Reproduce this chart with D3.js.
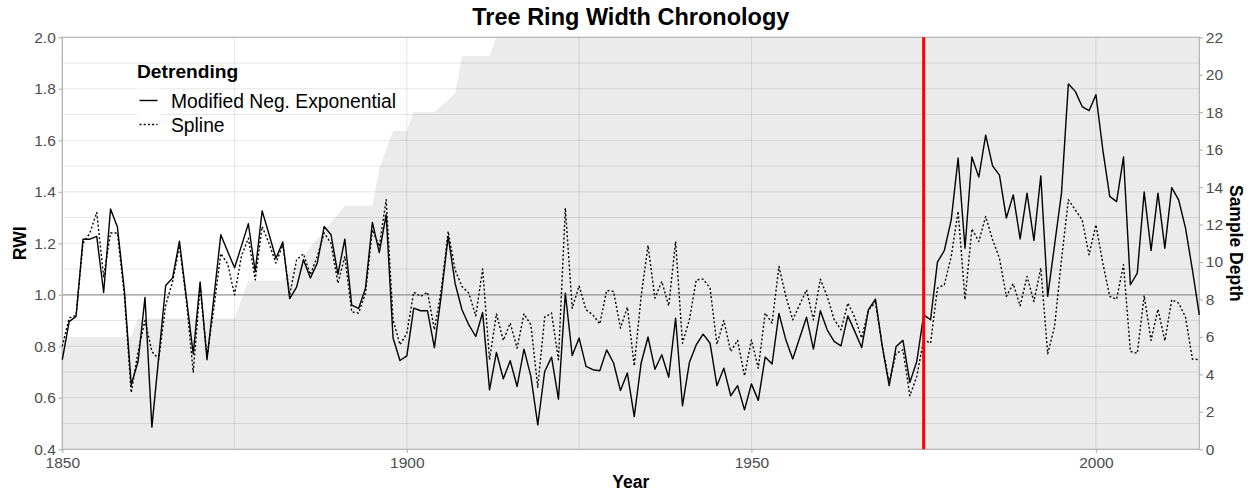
<!DOCTYPE html>
<html>
<head>
<meta charset="utf-8">
<script src="https://cdn.jsdelivr.net/npm/d3@7"></script>
<style>
  body { margin: 0; background: #fff; }
  svg { display: block; font-family: 'Liberation Sans', Arial, Helvetica, sans-serif; }
</style>
</head>
<body>
<div id="chart"></div>
<script>
const firstYear = 1850
const rwiModNegExp = [
  0.748, 0.896, 0.916, 1.216, 1.216, 1.227, 1.009, 1.333, 1.263, 1.019,
  0.650, 0.741, 0.990, 0.486, 0.760, 1.036, 1.065, 1.208, 0.990, 0.770,
  1.050, 0.748, 0.990, 1.233, 1.168, 1.105, 1.190, 1.276, 1.090, 1.326,
  1.235, 1.142, 1.205, 0.985, 1.030, 1.136, 1.065, 1.123, 1.265, 1.233,
  1.080, 1.216, 0.960, 0.947, 1.026, 1.281, 1.164, 1.311, 0.832, 0.745,
  0.763, 0.948, 0.938, 0.938, 0.795, 1.000, 1.227, 1.045, 0.942, 0.883,
  0.838, 0.931, 0.631, 0.776, 0.674, 0.744, 0.644, 0.789, 0.683, 0.495,
  0.702, 0.758, 0.595, 1.006, 0.764, 0.832, 0.722, 0.709, 0.705, 0.786,
  0.735, 0.628, 0.696, 0.527, 0.735, 0.836, 0.711, 0.767, 0.680, 0.909,
  0.569, 0.737, 0.806, 0.847, 0.812, 0.647, 0.715, 0.608, 0.647, 0.553,
  0.654, 0.590, 0.758, 0.731, 0.928, 0.825, 0.751, 0.832, 0.913, 0.789,
  0.938, 0.864, 0.819, 0.802, 0.918, 0.858, 0.795, 0.942, 0.983, 0.799,
  0.647, 0.799, 0.823, 0.660, 0.741, 0.922, 0.903, 1.127, 1.172, 1.291,
  1.531, 1.181, 1.535, 1.457, 1.620, 1.501, 1.465, 1.298, 1.388, 1.217,
  1.395, 1.211, 1.462, 0.994, 1.194, 1.395, 1.819, 1.790, 1.731, 1.715,
  1.777, 1.563, 1.382, 1.362, 1.535, 1.039, 1.084, 1.399, 1.172, 1.395,
  1.181, 1.416, 1.369, 1.259, 1.097, 0.922
]
const rwiSpline = [
  0.800, 0.910, 0.920, 1.200, 1.240, 1.320, 1.070, 1.240, 1.240, 1.000,
  0.620, 0.780, 0.900, 0.780, 0.750, 0.960, 1.050, 1.190, 0.980, 0.700,
  1.030, 0.760, 0.950, 1.160, 1.120, 1.000, 1.150, 1.220, 1.058, 1.265,
  1.200, 1.123, 1.194, 1.000, 1.136, 1.159, 1.078, 1.149, 1.240, 1.200,
  1.045, 1.149, 0.934, 0.929, 1.006, 1.252, 1.188, 1.369, 0.903, 0.806,
  0.851, 1.010, 0.994, 1.010, 0.864, 1.020, 1.246, 1.097, 1.032, 1.006,
  0.918, 1.100, 0.748, 0.926, 0.823, 0.890, 0.793, 0.926, 0.883, 0.641,
  0.913, 0.929, 0.748, 1.337, 0.948, 1.035, 0.942, 0.922, 0.887, 1.017,
  1.013, 0.871, 0.952, 0.724, 0.994, 1.192, 0.987, 1.052, 0.957, 1.207,
  0.812, 0.903, 1.058, 1.061, 1.026, 0.808, 0.900, 0.780, 0.823, 0.685,
  0.825, 0.715, 0.929, 0.890, 1.110, 0.994, 0.903, 0.961, 1.019, 0.903,
  1.061, 0.994, 0.905, 0.864, 0.968, 0.913, 0.832, 0.942, 0.970, 0.800,
  0.660, 0.773, 0.786, 0.608, 0.683, 0.825, 0.812, 1.026, 1.039, 1.149,
  1.324, 0.981, 1.256, 1.207, 1.304, 1.214, 1.142, 0.994, 1.043, 0.957,
  1.071, 0.974, 1.104, 0.771, 0.877, 1.136, 1.369, 1.330, 1.291, 1.155,
  1.272, 1.123, 0.994, 0.983, 1.117, 0.780, 0.773, 0.997, 0.823, 0.944,
  0.821, 0.981, 0.968, 0.913, 0.750, 0.748
]
// sample depth, given at the years where it changes
const depthYears = [1850, 1860, 1861, 1875, 1877, 1882, 1891, 1895, 1896, 1898, 1900, 1901, 1904, 1907, 1908, 1912, 1913, 2015]
const depthValues = [6, 6, 7, 7, 9, 9, 13, 13, 15, 17, 17, 18, 18, 19, 21, 21, 22, 22]
const cutoffYear = 1975
const seriesNames = ['Modified Neg. Exponential', 'Spline']
const xTicks = [1850, 1900, 1950, 2000]
const xGrid = [1850, 1875, 1900, 1925, 1950, 1975, 2000]
const yTicks = [0.4, 0.6, 0.8, 1.0, 1.2, 1.4, 1.6, 1.8, 2.0]
const depthTicks = [0, 2, 4, 6, 8, 10, 12, 14, 16, 18, 20, 22]

const width = 1252
const height = 492
const marginTop = 37.3
const marginRight = 52.7
const marginBottom = 42.7
const marginLeft = 62.3

const years = rwiModNegExp.map((d, i) => firstYear + i)
const series = [
  { name: seriesNames[0], values: rwiModNegExp, dash: null },
  { name: seriesNames[1], values: rwiSpline, dash: '2,2.2' }
]
const depth = depthYears.map((y, i) => ({ year: y, n: depthValues[i] }))

const x = d3.scaleLinear().domain([1850, 2015]).range([marginLeft, width - marginRight])
const y = d3.scaleLinear().domain([0.4, 2.0]).range([height - marginBottom, marginTop])
const yDepth = d3.scaleLinear().domain([0, 22]).range([height - marginBottom, marginTop])

const svg = d3
  .select('#chart')
  .append('svg')
  .attr('width', width)
  .attr('height', height)
  .attr('viewBox', [0, 0, width, height])

// sample depth area
svg
  .append('path')
  .datum(depth)
  .attr('fill', '#ebebeb')
  .attr(
    'd',
    d3
      .area()
      .x(d => x(d.year))
      .y0(yDepth(0))
      .y1(d => yDepth(d.n))
  )

// grid
const grid = svg.append('g').attr('stroke', '#000').attr('stroke-opacity', 0.1).attr('stroke-width', 1)
grid
  .selectAll('line.h')
  .data(d3.range(5, 20).map(v => v / 10))
  .join('line')
  .attr('class', 'h')
  .attr('x1', marginLeft)
  .attr('x2', width - marginRight)
  .attr('y1', d => y(d))
  .attr('y2', d => y(d))
grid
  .selectAll('line.v')
  .data(xGrid)
  .join('line')
  .attr('class', 'v')
  .attr('x1', d => x(d))
  .attr('x2', d => x(d))
  .attr('y1', marginTop)
  .attr('y2', height - marginBottom)

// reference line at 1
svg
  .append('line')
  .attr('x1', marginLeft)
  .attr('x2', width - marginRight)
  .attr('y1', y(1))
  .attr('y2', y(1))
  .attr('stroke', '#999')
  .attr('stroke-width', 1.2)

// panel border
svg
  .append('rect')
  .attr('x', marginLeft)
  .attr('y', marginTop)
  .attr('width', width - marginLeft - marginRight)
  .attr('height', height - marginTop - marginBottom)
  .attr('fill', 'none')
  .attr('stroke', '#b3b3b3')
  .attr('stroke-width', 1.2)

// chronology lines
const line = d3
  .line()
  .x((d, i) => x(years[i]))
  .y(d => y(d))

svg
  .append('g')
  .attr('fill', 'none')
  .attr('stroke', '#000')
  .attr('stroke-width', 1.4)
  .attr('stroke-linejoin', 'round')
  .selectAll('path')
  .data(series)
  .join('path')
  .attr('stroke-dasharray', d => d.dash)
  .attr('d', d => line(d.values))

// cutoff
svg
  .append('line')
  .attr('x1', x(cutoffYear))
  .attr('x2', x(cutoffYear))
  .attr('y1', marginTop)
  .attr('y2', height - marginBottom)
  .attr('stroke', '#ff0000')
  .attr('stroke-width', 3)

// axes
const styleAxis = g => {
  g.select('.domain').remove()
  g.selectAll('.tick line').attr('stroke', '#b3b3b3').attr('stroke-width', 1.2)
  g.selectAll('.tick text').attr('fill', '#4d4d4d').attr('font-size', 15.5)
}

svg
  .append('g')
  .attr('transform', `translate(0,${height - marginBottom})`)
  .call(d3.axisBottom(x).tickValues(xTicks).tickFormat(d3.format('d')).tickSize(3.5).tickPadding(4))
  .call(styleAxis)

svg
  .append('g')
  .attr('transform', `translate(${marginLeft},0)`)
  .call(d3.axisLeft(y).tickValues(yTicks).tickFormat(d3.format('.1f')).tickSize(3.5).tickPadding(3))
  .call(styleAxis)

svg
  .append('g')
  .attr('transform', `translate(${width - marginRight},0)`)
  .call(d3.axisRight(yDepth).tickValues(depthTicks).tickSize(3.5).tickPadding(3))
  .call(styleAxis)

// titles
svg
  .append('text')
  .attr('x', (marginLeft + width - marginRight) / 2)
  .attr('y', 24.5)
  .attr('text-anchor', 'middle')
  .attr('font-weight', 'bold')
  .attr('font-size', 23.5)
  .text('Tree Ring Width Chronology')

svg
  .append('text')
  .attr('x', (marginLeft + width - marginRight) / 2)
  .attr('y', 488)
  .attr('text-anchor', 'middle')
  .attr('font-weight', 'bold')
  .attr('font-size', 17.5)
  .text('Year')

svg
  .append('text')
  .attr('transform', `translate(26,${(marginTop + height - marginBottom) / 2}) rotate(-90)`)
  .attr('text-anchor', 'middle')
  .attr('font-weight', 'bold')
  .attr('font-size', 17.5)
  .text('RWI')

svg
  .append('text')
  .attr('transform', `translate(1230,${(marginTop + height - marginBottom) / 2}) rotate(90)`)
  .attr('text-anchor', 'middle')
  .attr('font-weight', 'bold')
  .attr('font-size', 17.5)
  .text('Sample Depth')

// legend
const legend = svg.append('g').attr('transform', 'translate(137,0)')
legend
  .append('text')
  .attr('x', 0)
  .attr('y', 77.5)
  .attr('font-weight', 'bold')
  .attr('font-size', 19.2)
  .text('Detrending')

const item = legend
  .selectAll('g.item')
  .data(series)
  .join('g')
  .attr('class', 'item')
  .attr('transform', (d, i) => `translate(0,${100.5 + i * 24})`)

item
  .append('rect')
  .attr('x', 0)
  .attr('y', -12)
  .attr('width', 24)
  .attr('height', 24)
  .attr('fill', '#fff')

item
  .append('line')
  .attr('x1', 2.5)
  .attr('x2', 20.5)
  .attr('stroke', '#000')
  .attr('stroke-width', 1.4)
  .attr('stroke-dasharray', d => d.dash)

item
  .append('text')
  .attr('x', 34)
  .attr('y', 7.5)
  .attr('font-size', 19.3)
  .text(d => d.name)
</script>
</body>
</html>
